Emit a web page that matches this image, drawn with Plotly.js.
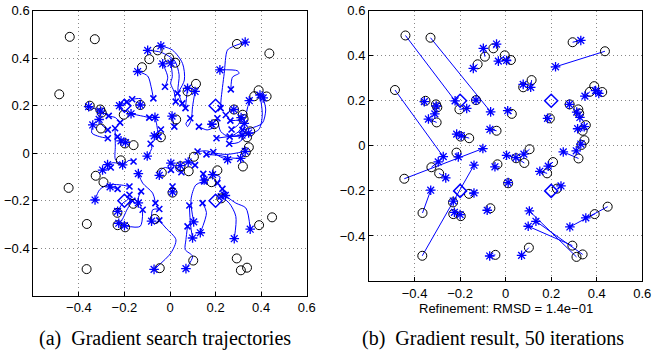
<!DOCTYPE html>
<html><head><meta charset="utf-8">
<script src="https://cdn.plot.ly/plotly-3.0.1.min.js"></script>
<style>html,body{margin:0;padding:0;background:#fff}#chart{width:652px;height:356px}</style>
</head><body><div id="chart"></div>
<script>
// True node positions (circles)
const circX = [-0.44,-0.33,-0.486,-0.352,-0.306,-0.3,-0.303,-0.203,-0.13,-0.123,-0.091,-0.054,-0.004,0.023,0.077,0.114,0.027,-0.198,-0.16,-0.04,
  0.294,0.436,0.389,0.37,0.424,0.281,0.319,0.323,0.194,0.352,0.338,0.346,-0.216,-0.445,-0.326,-0.292,-0.036,0.105,0.046,0.082,
  0.32,0.333,0.208,0.182,0.011,0.225,0.448,0.391,0.293,0.311,0.338,0.102,-0.366,-0.365,-0.161,-0.231,-0.23,-0.197,-0.067,-0.045];
const circY = [0.49,0.48,0.248,0.2,0.184,0.171,0.104,0.162,0.203,0.362,0.396,0.433,0.402,0.381,0.26,0.292,0.142,0.041,0.034,0.067,
  0.46,0.42,0.265,0.24,0.239,0.184,0.162,0.144,0.122,0.092,0.067,0.025,-0.03,-0.146,-0.095,-0.122,-0.082,-0.015,-0.055,-0.076,
  -0.056,0.004,-0.072,-0.122,-0.166,-0.19,-0.27,-0.303,-0.443,-0.493,-0.482,-0.452,-0.488,-0.298,-0.213,-0.251,-0.303,-0.312,-0.277,-0.484];
// Estimated positions after refinement (asterisks)
const estX = [-0.222,-0.066,-0.274,-0.357,-0.305,-0.311,-0.339,-0.171,-0.13,-0.142,-0.098,-0.04,-0.032,0.004,0.077,0.11,0.009,-0.215,-0.195,-0.069,
  0.33,0.219,0.395,0.348,0.409,0.28,0.312,0.326,0.184,0.345,0.316,0.33,-0.208,-0.1,-0.296,-0.263,-0.047,0.08,0.004,0.045,
  0.253,0.31,0.187,0.15,0.011,0.243,0.282,0.352,0.099,0.104,0.133,0.07,-0.139,-0.329,-0.139,-0.23,-0.225,-0.2,-0.081,-0.07];
const estY = [0.2,0.151,-0.048,0.196,0.177,0.142,0.119,0.166,0.203,0.344,0.433,0.452,0.376,0.379,0.273,0.26,0.156,0.052,0.045,0.073,
  0.468,0.351,0.245,0.221,0.233,0.184,0.15,0.126,0.122,0.085,0.076,0.008,-0.049,-0.012,-0.071,-0.142,-0.093,-0.037,-0.042,-0.052,
  -0.027,-0.022,-0.09,-0.113,-0.163,-0.178,-0.36,-0.32,-0.357,-0.289,-0.335,-0.486,-0.086,-0.197,-0.209,-0.245,-0.295,-0.305,-0.286,-0.489];
// Anchor nodes (diamonds)
const anchorX = [-0.2,0.2,-0.2,0.2];
const anchorY = [0.2,0.2,-0.2,-0.2];
// Gradient search trajectories (start -> end), separated by null
const trajX = [-0.073,-0.083,-0.098,-0.142,null, 0.054,0.035,0.04,0.02,-0.04,-0.098,null, 0.033,0.063,0.055,0.011,-0.04,null,
  -0.022,-0.01,-0.032,null, 0.025,0.018,0.003,0.01,0.004,null, 0.068,0.072,0.077,null, 0.089,0.07,0.077,0.093,0.099,0.11,null,
  0.019,0.009,null, 0.267,0.274,0.289,0.303,0.296,0.219,null, 0.222,0.224,0.238,0.252,0.274,0.33,null,
  0.318,0.354,0.405,0.42,0.409,null, 0.265,0.302,0.331,0.338,0.348,null, 0.262,0.33,0.39,0.405,0.395,null,
  0.245,0.26,0.28,null, 0.208,0.223,0.26,0.3,0.326,null, 0.27,0.3,0.312,null, 0.127,0.163,0.192,0.184,null,
  0.204,0.258,0.316,null, 0.26,0.3,0.345,null, 0.121,0.16,0.2,0.25,0.33,null, 0.19,0.22,0.253,null,
  0.16,0.22,0.27,0.31,null, 0.05,0.03,0.02,0.004,null, 0.11,0.09,0.08,null, 0.004,-0.02,-0.04,-0.047,null,
  -0.091,-0.13,-0.171,null, -0.05,-0.055,-0.06,-0.066,null, -0.085,-0.08,-0.1,null, -0.04,-0.06,-0.069,null,
  -0.166,-0.127,-0.134,-0.13,null, -0.19,-0.222,null, -0.219,-0.24,-0.269,-0.31,-0.357,null, -0.269,-0.305,null,
  -0.273,-0.31,-0.343,-0.339,null, -0.273,-0.3,-0.311,null, -0.241,-0.24,-0.239,-0.208,null,
  -0.16,-0.18,-0.2,-0.25,-0.274,null, -0.26,-0.296,null, -0.178,-0.222,-0.273,-0.309,-0.329,null, -0.23,-0.263,null,
  -0.178,-0.186,-0.207,-0.23,null, -0.064,-0.076,-0.12,-0.139,null, -0.047,-0.076,-0.081,null, -0.12,-0.131,-0.2,null,
  -0.165,-0.19,-0.21,-0.225,null, -0.127,-0.14,-0.139,null, -0.047,-0.018,0.026,0.004,-0.07,null,
  0.077,0.07,0.067,0.099,0.07,null, 0.085,0.09,0.099,null, 0.15,0.114,0.092,0.104,null, 0.143,0.16,0.133,null,
  0.223,0.26,0.289,0.282,null, 0.238,0.289,0.333,0.352,null, 0.23,0.243,null, 0.208,0.22,0.187,null,
  0.146,0.15,null, 0.011,0.011,null, -0.23,-0.215];
const trajY = [0.231,0.28,0.325,0.344,null, 0.21,0.26,0.33,0.39,0.425,0.433,null, 0.252,0.308,0.378,0.434,0.452,null,
  0.28,0.32,0.376,null, 0.217,0.259,0.294,0.322,0.379,null, 0.19,0.23,0.273,null, 0.147,0.126,0.112,0.14,0.196,0.26,null,
  0.112,0.156,null, 0.269,0.32,0.329,0.336,0.347,0.351,null, 0.19,0.224,0.336,0.434,0.448,0.468,null,
  0.098,0.105,0.126,0.182,0.233,null, 0.137,0.14,0.154,0.182,0.221,null, 0.07,0.075,0.1,0.16,0.245,null,
  0.161,0.175,0.184,null, 0.147,0.091,0.07,0.09,0.126,null, 0.1,0.12,0.15,null, 0.112,0.098,0.11,0.122,null,
  0.063,0.07,0.076,null, 0.04,0.045,0.085,null, 0.007,0.01,0.0,-0.005,0.008,null, 0.005,-0.015,-0.027,null,
  -0.005,-0.01,-0.02,-0.022,null, -0.08,-0.075,-0.05,-0.042,null, -0.05,-0.04,-0.037,null, -0.07,-0.06,-0.07,-0.093,null,
  0.15,0.158,0.166,null, 0.07,0.1,0.13,0.151,null, 0.04,0.02,-0.012,null, 0.1,0.085,0.073,null,
  0.227,0.229,0.21,0.203,null, 0.215,0.2,null, 0.129,0.15,0.157,0.18,0.196,null, 0.157,0.177,null,
  0.063,0.07,0.085,0.119,null, 0.098,0.12,0.142,null, 0.105,0.03,-0.028,-0.049,null,
  -0.035,-0.03,-0.045,-0.04,-0.048,null, -0.06,-0.071,null, -0.14,-0.133,-0.133,-0.154,-0.197,null, -0.15,-0.142,null,
  -0.175,-0.196,-0.21,-0.245,null, -0.21,-0.168,-0.126,-0.086,null, -0.235,-0.238,-0.286,null, -0.238,-0.308,-0.305,null,
  -0.2,-0.24,-0.28,-0.295,null, -0.161,-0.19,-0.209,null, -0.283,-0.315,-0.364,-0.42,-0.489,null,
  -0.308,-0.364,-0.406,-0.434,-0.486,null, -0.22,-0.3,-0.357,null, -0.119,-0.133,-0.196,-0.289,null, -0.21,-0.25,-0.335,null,
  -0.182,-0.21,-0.266,-0.36,null, -0.175,-0.21,-0.231,-0.32,null, -0.15,-0.178,null, -0.126,-0.1,-0.09,null,
  -0.087,-0.113,null, -0.14,-0.163,null, 0.07,0.052];
const tickVals = [-0.4,-0.2,0,0.2,0.4,0.6];
const captionA = '(a)  Gradient search trajectories';
const captionB = '(b)  Gradient result, 50 iterations';
const rmsdLabel = 'Refinement: RMSD = 1.4e\u221201';

// Derived: start points of trajectories, error lines of right panel
const startX = [], startY = [];
for (let i = 0; i < trajX.length; i++) {
  if (i === 0 || trajX[i-1] === null) { if (trajX[i] !== null) { startX.push(trajX[i]); startY.push(trajY[i]); } }
}
const errX = [], errY = [];
for (let i = 0; i < circX.length; i++) { errX.push(circX[i], estX[i], null); errY.push(circY[i], estY[i], null); }

const BLUE = '#0000ff';
const circM = {symbol:'circle-open', size:9, color:'#000', line:{color:'#000', width:1}};
const astM = {symbol:'asterisk-open', size:8, color:BLUE, line:{color:BLUE, width:1.3}};
const diaM = {symbol:'diamond-open', size:10, color:BLUE, line:{color:BLUE, width:1.5}};
const xM = {symbol:'x-thin-open', size:6, color:BLUE, line:{color:BLUE, width:1.6}};

const traces = [
  {x:trajX, y:trajY, xaxis:'x', yaxis:'y', mode:'lines', line:{color:BLUE, width:1, shape:'spline', smoothing:0.8}, connectgaps:false, hoverinfo:'skip'},
  {x:startX, y:startY, xaxis:'x', yaxis:'y', mode:'markers', marker:xM},
  {x:circX, y:circY, xaxis:'x', yaxis:'y', mode:'markers', marker:circM},
  {x:estX, y:estY, xaxis:'x', yaxis:'y', mode:'markers', marker:astM},
  {x:anchorX, y:anchorY, xaxis:'x', yaxis:'y', mode:'markers', marker:diaM},
  {x:errX, y:errY, xaxis:'x2', yaxis:'y2', mode:'lines', line:{color:BLUE, width:1}, connectgaps:false},
  {x:circX, y:circY, xaxis:'x2', yaxis:'y2', mode:'markers', marker:circM},
  {x:estX, y:estY, xaxis:'x2', yaxis:'y2', mode:'markers', marker:astM},
  {x:anchorX, y:anchorY, xaxis:'x2', yaxis:'y2', mode:'markers', marker:diaM}
];

const tickFont = {family:'Liberation Sans, Arial, sans-serif', size:13, color:'#000'};
function ax(domain, anchor) {
  return {domain:domain, anchor:anchor, range:[-0.6,0.6], tickvals:tickVals, showline:true, mirror:true,
    linecolor:'#000', linewidth:1, ticks:'inside', ticklen:4, tickcolor:'#000', showgrid:true,
    gridcolor:'#888', gridwidth:1, griddash:'1px,3px', zeroline:false, tickfont:tickFont, fixedrange:true};
}
const W = 652, H = 356;
const layout = {
  width:W, height:H, margin:{l:0, r:0, t:0, b:0}, showlegend:false,
  paper_bgcolor:'#fff', plot_bgcolor:'#fff',
  xaxis: ax([33.3/W, 306.7/W], 'y'),
  yaxis: ax([1-295.7/H, 1-10.7/H], 'x'),
  xaxis2: ax([369/W, 642.3/W], 'y2'),
  yaxis2: ax([1-281/H, 1-10.7/H], 'x2'),
  annotations:[
    {text:rmsdLabel, xref:'paper', yref:'paper', x:505.7/W, y:1-308/H, showarrow:false, xanchor:'center', yanchor:'middle',
      font:{family:'Liberation Sans, Arial, sans-serif', size:13, color:'#000'}},
    {text:captionA, xref:'paper', yref:'paper', x:165.5/W, y:1-338/H, showarrow:false, xanchor:'center', yanchor:'middle',
      font:{family:'Liberation Serif, Times New Roman, serif', size:20, color:'#000'}},
    {text:captionB, xref:'paper', yref:'paper', x:493/W, y:1-338/H, showarrow:false, xanchor:'center', yanchor:'middle',
      font:{family:'Liberation Serif, Times New Roman, serif', size:20, color:'#000'}}
  ]
};
Plotly.newPlot('chart', traces, layout, {displayModeBar:false, staticPlot:true});
</script></body></html>
